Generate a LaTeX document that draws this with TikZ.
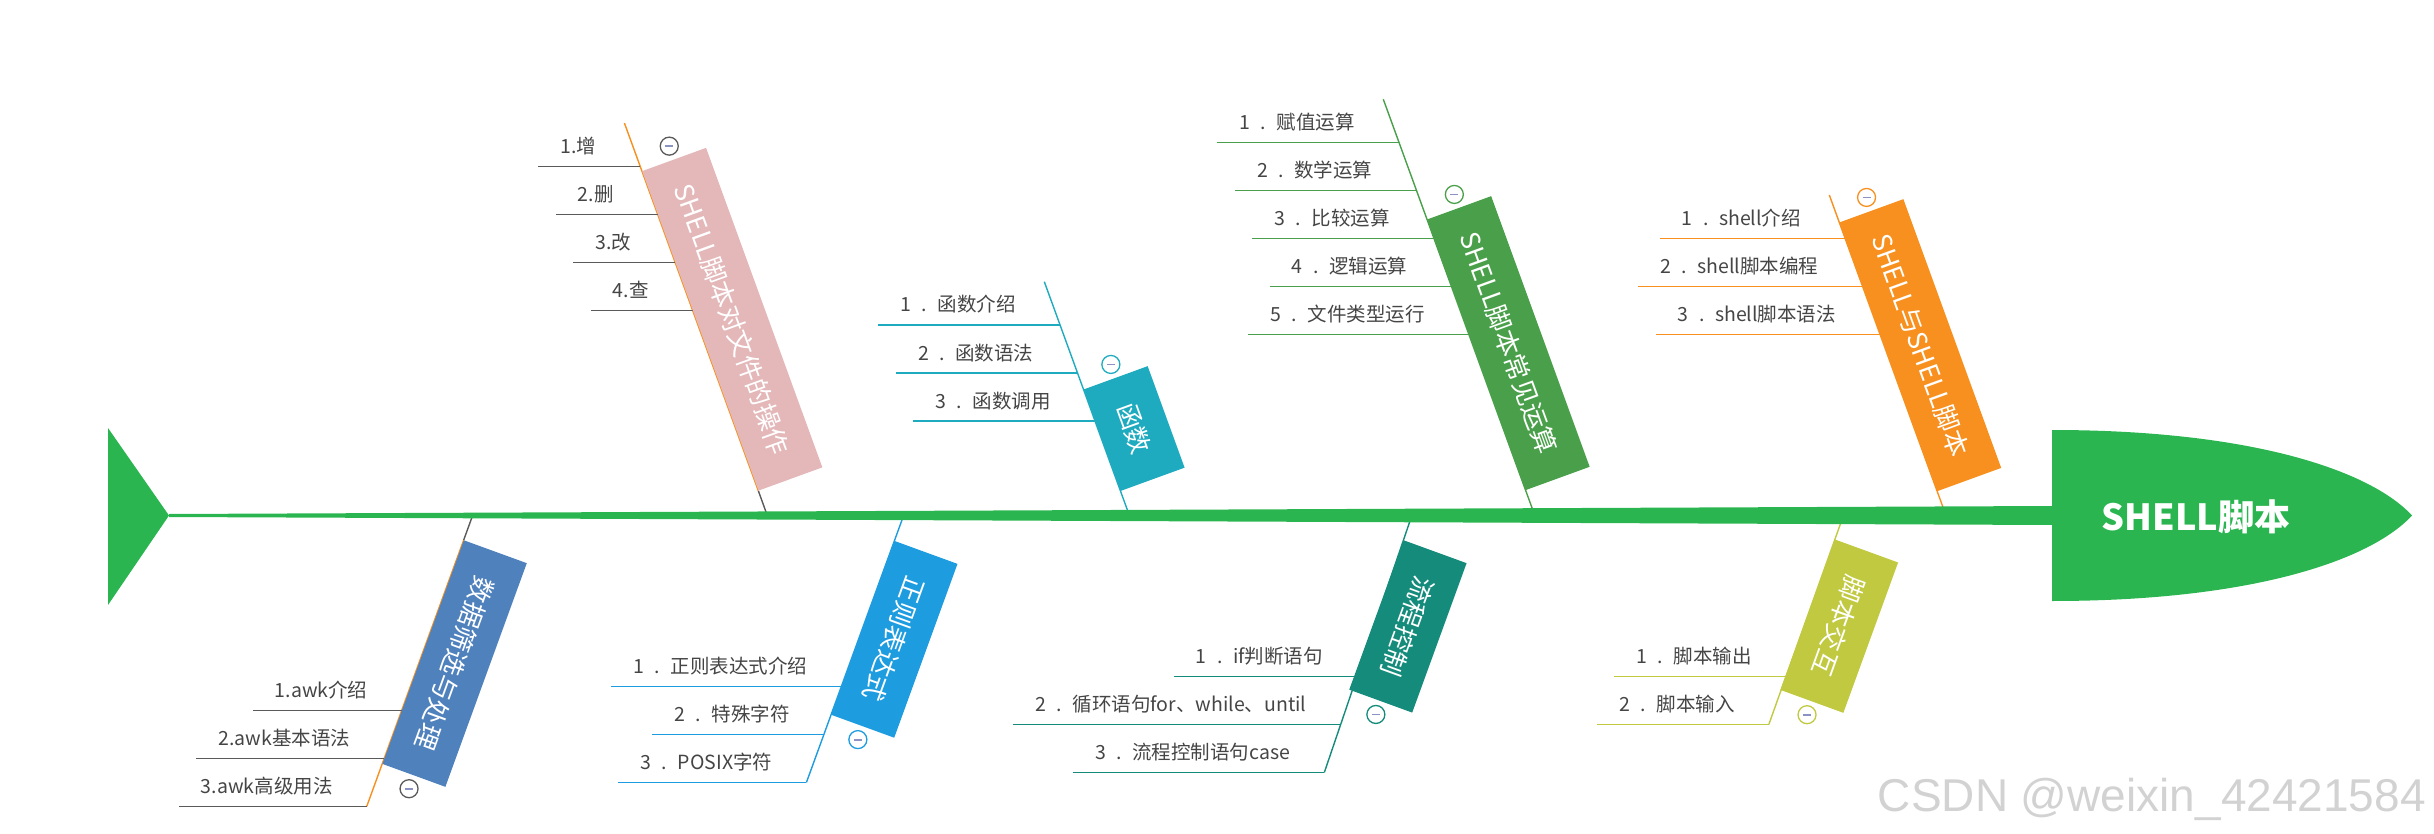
\documentclass[tikz,border=0pt]{standalone}
\usepackage{fontspec}
\setmainfont{Noto Sans CJK SC}
\newfontfamily\markfont{Liberation Sans}
\usepackage{tikz}
\usetikzlibrary{calc}
\definecolor{fbGreen}{HTML}{2BB550}
\definecolor{fbPink}{HTML}{E4B7B9}
\definecolor{fbOrange}{HTML}{F7901E}
\definecolor{fbTeal}{HTML}{1EABBF}
\definecolor{fbLeaf}{HTML}{4AA04A}
\definecolor{fbSteel}{HTML}{4F81BD}
\definecolor{fbSky}{HTML}{1E9CE0}
\definecolor{fbSea}{HTML}{148B7B}
\definecolor{fbOlive}{HTML}{C1C940}
\definecolor{fbGray}{HTML}{5A5A5A}
\definecolor{fbText}{HTML}{454545}
\definecolor{fbMinus}{HTML}{8A93C4}
\newcommand\foldmark{\textcolor{fbMinus}{\rule{8pt}{1.8pt}}}
\newcommand\fdot{\kern10.5pt.\kern10.5pt}
\tikzset{
  bone/.style={line width=1.4pt},
  subline/.style={line width=1.6pt},
  item/.style={inner xsep=22pt, inner ysep=0pt, anchor=base east, text=fbText, font=\fontsize{19.5}{23}\selectfont},
  topbox/.style={rectangle, inner sep=0pt, minimum height=68pt, rotate=-70, anchor=south west, text=white, font=\fontsize{26}{30}\selectfont},
  botbox/.style={rectangle, inner sep=0pt, minimum height=67pt, rotate=250, anchor=south west, text=white, font=\fontsize{26}{30}\selectfont},
  fold/.style={circle, draw=#1, fill=white, line width=1.3pt, minimum size=18pt, inner sep=0pt}
}

\begin{document}
\begin{tikzpicture}[x=1pt, y=-1pt]
  \useasboundingbox (0,0) rectangle (2434,834);

  \coordinate (t1foot) at (767.1,515);
  \coordinate (t1split) at (758.3,490.7);
  \coordinate (t1tip) at (624.4,123);
  \coordinate (t1top) at (641.9,171);
  \draw[bone, fbGray] (t1foot) -- (t1split);
  \draw[bone, fbOrange] (t1split) -- (t1tip);
  \coordinate (t1a) at (640.2,166.5);
  \coordinate (t1b) at (657.7,214.5);
  \coordinate (t1c) at (675.2,262.5);
  \coordinate (t1d) at (692.7,310.5);
  \node[item] (t1ia) at ($(t1a)+(-22,-13)$) {1.增};
  \node[item] (t1ib) at ($(t1b)+(-22,-13)$) {2.删};
  \node[item] (t1ic) at ($(t1c)+(-22,-13)$) {3.改};
  \node[item] (t1id) at ($(t1d)+(-22,-13)$) {4.查};
  \draw[subline, fbGray] (t1a) -- (t1a -| t1ia.west);
  \draw[subline, fbGray] (t1b) -- (t1b -| t1ib.west);
  \draw[subline, fbGray] (t1c) -- (t1c -| t1ic.west);
  \draw[subline, fbGray] (t1d) -- (t1d -| t1id.west);
  \node[topbox, fill=fbPink, minimum width=340pt] (t1box) at (t1top) {SHELL脚本对文件的操作};
  \node[fold=fbGray] (t1fold) at ($(t1box.west)!-14pt!(t1box.center)$) {\foldmark};

  \coordinate (t2foot) at (1129.2,515);
  \coordinate (t2tip) at (1044.3,281.7);
  \coordinate (t2top) at (1083.5,389.3);
  \draw[bone, fbTeal] (t2foot) -- (t2tip);
  \coordinate (t2a) at (1060.1,325);
  \coordinate (t2b) at (1077.5,373);
  \coordinate (t2c) at (1095.0,421);
  \node[item] (t2ia) at ($(t2a)+(-22,-13)$) {1\fdot 函数介绍};
  \node[item] (t2ib) at ($(t2b)+(-22,-13)$) {2\fdot 函数语法};
  \node[item] (t2ic) at ($(t2c)+(-22,-13)$) {3\fdot 函数调用};
  \draw[subline, fbTeal] (t2a) -- (t2a -| t2ia.west);
  \draw[subline, fbTeal] (t2b) -- (t2b -| t2ib.west);
  \draw[subline, fbTeal] (t2c) -- (t2c -| t2ic.west);
  \node[topbox, fill=fbTeal, minimum width=108pt] (t2box) at (t2top) {函数};
  \node[fold=fbTeal] (t2fold) at ($(t2box.west)!-14pt!(t2box.center)$) {\foldmark};

  \coordinate (t3foot) at (1534.6,515);
  \coordinate (t3tip) at (1383.3,99.3);
  \coordinate (t3top) at (1427.0,219.3);
  \draw[bone, fbLeaf] (t3foot) -- (t3tip);
  \coordinate (t3a) at (1399.0,142.5);
  \coordinate (t3b) at (1416.5,190.5);
  \coordinate (t3c) at (1434.0,238.5);
  \coordinate (t3d) at (1451.4,286.5);
  \coordinate (t3e) at (1468.9,334.5);
  \node[item] (t3ia) at ($(t3a)+(-22,-13)$) {1\fdot 赋值运算};
  \node[item] (t3ib) at ($(t3b)+(-22,-13)$) {2\fdot 数学运算};
  \node[item] (t3ic) at ($(t3c)+(-22,-13)$) {3\fdot 比较运算};
  \node[item] (t3id) at ($(t3d)+(-22,-13)$) {4\fdot 逻辑运算};
  \node[item] (t3ie) at ($(t3e)+(-22,-13)$) {5\fdot 文件类型运行};
  \draw[subline, fbLeaf] (t3a) -- (t3a -| t3ia.west);
  \draw[subline, fbLeaf] (t3b) -- (t3b -| t3ib.west);
  \draw[subline, fbLeaf] (t3c) -- (t3c -| t3ic.west);
  \draw[subline, fbLeaf] (t3d) -- (t3d -| t3id.west);
  \draw[subline, fbLeaf] (t3e) -- (t3e -| t3ie.west);
  \node[topbox, fill=fbLeaf, minimum width=288pt] (t3box) at (t3top) {SHELL脚本常见运算};
  \node[fold=fbLeaf] (t3fold) at ($(t3box.west)!-14pt!(t3box.center)$) {\foldmark};

  \coordinate (t4foot) at (1945.8,515);
  \coordinate (t4tip) at (1829.3,195);
  \coordinate (t4top) at (1839.2,222.3);
  \draw[bone, fbOrange] (t4foot) -- (t4tip);
  \coordinate (t4a) at (1845.1,238.5);
  \coordinate (t4b) at (1862.6,286.5);
  \coordinate (t4c) at (1880.1,334.5);
  \node[item] (t4ia) at ($(t4a)+(-22,-13)$) {1\fdot shell介绍};
  \node[item] (t4ib) at ($(t4b)+(-22,-13)$) {2\fdot shell脚本编程};
  \node[item] (t4ic) at ($(t4c)+(-22,-13)$) {3\fdot shell脚本语法};
  \draw[subline, fbOrange] (t4a) -- (t4a -| t4ia.west);
  \draw[subline, fbOrange] (t4b) -- (t4b -| t4ib.west);
  \draw[subline, fbOrange] (t4c) -- (t4c -| t4ic.west);
  \node[topbox, fill=fbOrange, minimum width=286pt] (t4box) at (t4top) {SHELL与SHELL脚本};
  \node[fold=fbOrange] (t4fold) at ($(t4box.west)!-14pt!(t4box.center)$) {\foldmark};

  \coordinate (b1foot) at (472.8,515);
  \coordinate (b1tip) at (366.7,806.5);
  \coordinate (b1top) at (463.7,540);
  \draw[bone, fbGray] (b1foot) -- (b1top);
  \draw[bone, fbOrange] (b1top) -- (b1tip);
  \coordinate (b1a) at (401.6,710.5);
  \coordinate (b1b) at (384.2,758.5);
  \coordinate (b1c) at (366.7,806.5);
  \node[item] (b1ia) at ($(b1a)+(-12,-13)$) {1.awk介绍};
  \node[item] (b1ib) at ($(b1b)+(-12,-13)$) {2.awk基本语法};
  \node[item] (b1ic) at ($(b1c)+(-12,-13)$) {3.awk高级用法};
  \draw[subline, fbGray] (b1a) -- (b1a -| b1ia.west);
  \draw[subline, fbGray] (b1b) -- (b1b -| b1ib.west);
  \draw[subline, fbGray] (b1c) -- (b1c -| b1ic.west);
  \node[botbox, fill=fbSteel, minimum width=238pt] (b1box) at (b1top) {数据筛选与处理};
  \node[fold=fbGray] (b1fold) at ($(b1box.east)!-14pt!(b1box.center)$) {\foldmark};

  \coordinate (b2foot) at (903.8,515);
  \coordinate (b2tip) at (806.4,782.5);
  \coordinate (b2top) at (894.4,540.7);
  \draw[bone, fbSky] (b2foot) -- (b2tip);
  \coordinate (b2a) at (841.4,686.5);
  \coordinate (b2b) at (823.9,734.5);
  \coordinate (b2c) at (806.4,782.5);
  \node[item] (b2ia) at ($(b2a)+(-12,-13)$) {1\fdot 正则表达式介绍};
  \node[item] (b2ib) at ($(b2b)+(-12,-13)$) {2\fdot 特殊字符};
  \node[item] (b2ic) at ($(b2c)+(-12,-13)$) {3\fdot POSIX字符};
  \draw[subline, fbSky] (b2a) -- (b2a -| b2ia.west);
  \draw[subline, fbSky] (b2b) -- (b2b -| b2ib.west);
  \draw[subline, fbSky] (b2c) -- (b2c -| b2ic.west);
  \node[botbox, fill=fbSky, minimum width=185pt] (b2box) at (b2top) {正则表达式};
  \node[fold=fbSky] (b2fold) at ($(b2box.east)!-14pt!(b2box.center)$) {\foldmark};

  \coordinate (b3foot) at (1412,515);
  \coordinate (b3tip) at (1324.3,772.5);
  \coordinate (b3top) at (1403.5,540);
  \draw[bone, fbSea] (b3foot) -- (b3tip);
  \coordinate (b3a) at (1357.0,676.5);
  \coordinate (b3b) at (1340.6,724.5);
  \coordinate (b3c) at (1324.3,772.5);
  \node[item] (b3ia) at ($(b3a)+(-12,-13)$) {1\fdot if判断语句};
  \node[item] (b3ib) at ($(b3b)+(-12,-13)$) {2\fdot 循环语句for、while、until};
  \node[item] (b3ic) at ($(b3c)+(-12,-13)$) {3\fdot 流程控制语句case};
  \draw[subline, fbSea] (b3a) -- (b3a -| b3ia.west);
  \draw[subline, fbSea] (b3b) -- (b3b -| b3ib.west);
  \draw[subline, fbSea] (b3c) -- (b3c -| b3ic.west);
  \node[botbox, fill=fbSea, minimum width=159pt] (b3box) at (b3top) {流程控制};
  \node[fold=fbSea] (b3fold) at ($(b3box.east)!-14pt!(b3box.center)$) {\foldmark};

  \coordinate (b4foot) at (1843.6,515);
  \coordinate (b4tip) at (1768.8,724.5);
  \coordinate (b4top) at (1835,539.3);
  \draw[bone, fbOlive] (b4foot) -- (b4tip);
  \coordinate (b4a) at (1785.9,676.5);
  \coordinate (b4b) at (1768.8,724.5);
  \node[item] (b4ia) at ($(b4a)+(-12,-13)$) {1\fdot 脚本输出};
  \node[item] (b4ib) at ($(b4b)+(-12,-13)$) {2\fdot 脚本输入};
  \draw[subline, fbOlive] (b4a) -- (b4a -| b4ia.west);
  \draw[subline, fbOlive] (b4b) -- (b4b -| b4ib.west);
  \node[botbox, fill=fbOlive, minimum width=160pt] (b4box) at (b4top) {脚本交互};
  \node[fold=fbOlive] (b4fold) at ($(b4box.east)!-14pt!(b4box.center)$) {\foldmark};

  \coordinate (tailtip) at (169,515.5);
  \coordinate (headbase) at (2052,515.5);
  \fill[fbGreen] ($(tailtip)+(0,-1.5)$) -- ($(headbase)+(0,-9.5)$) -- ($(headbase)+(0,9.5)$) -- ($(tailtip)+(0,1.5)$) -- cycle;
  \fill[fbGreen] (tailtip) -- ($(tailtip)+(-61,-87.5)$) -- ($(tailtip)+(-61,89.5)$) -- cycle;
  \fill[fbGreen] ($(headbase)+(0,-85.5)$) .. controls ($(headbase)+(198,-85.5)$) and ($(headbase)+(318,-45.5)$) .. ($(headbase)+(360,0)$)
    .. controls ($(headbase)+(318,45.5)$) and ($(headbase)+(198,85.5)$) .. ($(headbase)+(0,85.5)$) -- cycle;
  \node[font=\bfseries\fontsize{36}{40}\selectfont, text=white] (head) at (2196,517) {SHELL脚本};

  \node[font=\markfont\fontsize{46}{50}\selectfont, text=gray!35, anchor=base east, inner sep=0pt] (mark) at (2426,811.5) {CSDN @weixin\_42421584};
\end{tikzpicture}
\end{document}
